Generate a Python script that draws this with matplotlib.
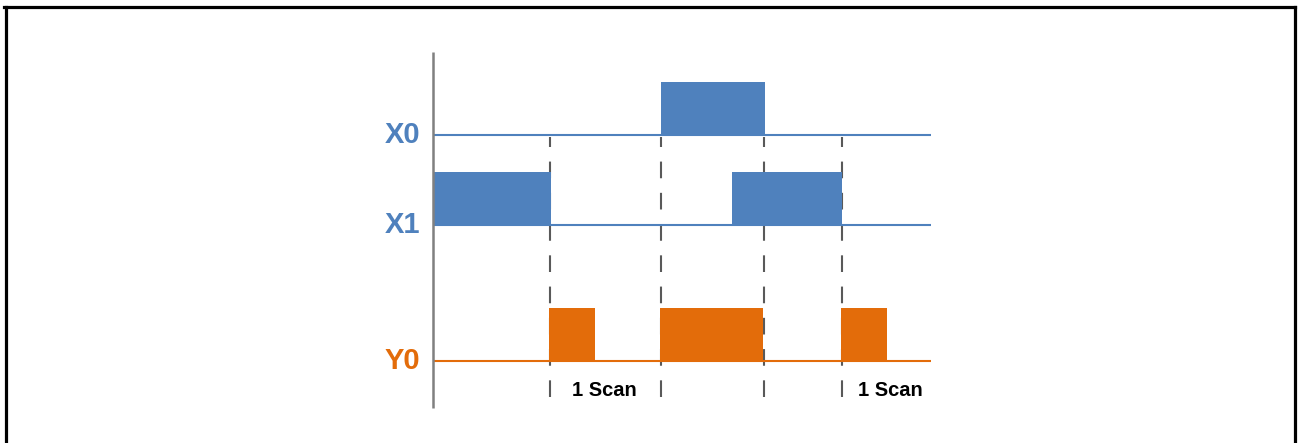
import matplotlib.pyplot as plt
from matplotlib.lines import Line2D

# signal rows: name, baseline level, colour
rows = ["X0", "X1", "Y0"]
baselines = [30.8, 21.8, 8.2]
colors = ["#4F81BD", "#4F81BD", "#E36C0A"]
pulse_height = 5.3

# pulse (start, end) times for each signal
x0_pulses = [(22.8, 33.2)]
x1_pulses = [(0.0, 11.8), (29.9, 40.9)]
y0_pulses = [(11.6, 16.2), (22.7, 33.0), (40.8, 45.4)]
pulses = [x0_pulses, x1_pulses, y0_pulses]

t_end = 49.8
edge_times = [11.7, 22.8, 33.1, 40.9]
scan_labels = ["1 Scan", "1 Scan"]
scan_label_x = [17.15, 45.75]

plt.rcParams['font.family'] = ['Liberation Sans', 'DejaVu Sans']

fig = plt.figure(figsize=(12.98, 4.43), dpi=100)
ax = fig.add_axes([0, 0, 1, 1])
ax.set_xlim(-43.3, 86.5)
ax.set_ylim(0, 44.3)
ax.axis("off")

# dashed edge markers
for t in edge_times:
    ax.vlines(t, 4.6, 30.6, colors="#595959", linewidth=1.5,
              linestyles=(0, (8, 7)), zorder=1)

for name, base, col, pl in zip(rows, baselines, colors, pulses):
    ax.hlines(base, 0, t_end, colors=col, linewidth=1.5, zorder=2)
    starts = [p[0] for p in pl]
    widths = [p[1] - p[0] for p in pl]
    ax.bar(starts, pulse_height, width=widths, bottom=base, align="edge",
           color=col, linewidth=0, zorder=3)
    ax.text(-1.3, base, name, color=col, fontsize=21, fontweight="bold",
            ha="right", va="center")

# vertical axis
ax.vlines(0, 3.5, 39.1, colors="#808080", linewidth=1.8, zorder=4)

for lab, x in zip(scan_labels, scan_label_x):
    ax.text(x, 5.3, lab, fontsize=14.5, fontweight="bold", color="black",
            ha="center", va="center")

# frame (top, left, right)
for xs, ys in [([0.003, 0.998], [0.985, 0.985]),
               ([0.0043, 0.0043], [0.0, 0.985]),
               ([0.9975, 0.9975], [0.0, 0.985])]:
    fig.add_artist(Line2D(xs, ys, color="black", linewidth=2.3,
                          transform=fig.transFigure))

fig.savefig("out.png", dpi=100)
